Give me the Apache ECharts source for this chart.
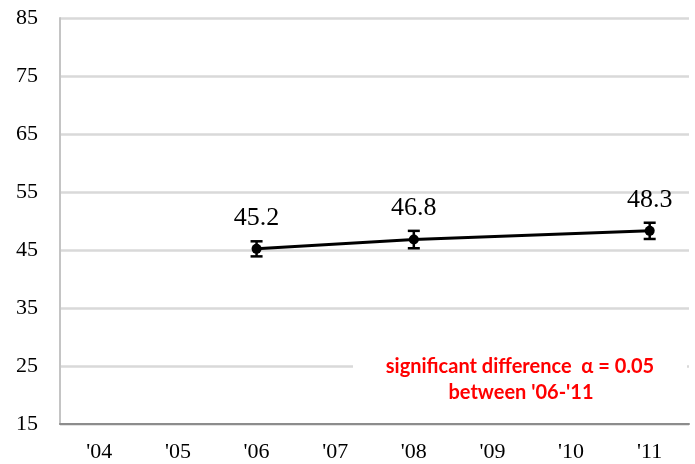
<!DOCTYPE html>
<html>
<head>
<meta charset="utf-8">
<script src="https://cdn.jsdelivr.net/npm/echarts@6/dist/echarts.min.js"></script>
<style>
  html, body { margin: 0; padding: 0; background: #fff; }
  #chart { width: 695px; height: 464px; }
</style>
</head>
<body>
<div id="chart"></div>
<script>
// Survey years shown on the horizontal axis
const years = ["'04", "'05", "'06", "'07", "'08", "'09", "'10", "'11"];
// Mean score per year (null where no survey was run)
const means = [null, null, 45.2, null, 46.8, null, null, 48.3];
// Half-width of the error bar for each measured year
const errors = [null, null, 1.3, null, 1.5, null, null, 1.4];
// Value axis range and step
const yMin = 15, yMax = 85, yStep = 10;
// Note printed in the lower right
const noteLines = ["significant difference  \u03b1 = 0.05", "between '06-'11"];

const points = [];
means.forEach((v, i) => { if (v !== null) points.push([i, v]); });
const bars = [];
means.forEach((v, i) => { if (v !== null) bars.push([i, v - errors[i], v + errors[i]]); });

const chart = echarts.init(document.getElementById('chart'), null, { renderer: 'canvas' });
const serif = "'Liberation Serif', 'Times New Roman', serif";

chart.setOption({
  animation: false,
  backgroundColor: '#ffffff',
  grid: { left: 60, right: 6, top: 18, bottom: 40 },
  xAxis: {
    type: 'category',
    data: years,
    boundaryGap: true,
    axisLine: { show: true, lineStyle: { color: '#8c8c8c', width: 2 } },
    axisTick: { show: false },
    axisLabel: { color: '#000', fontFamily: serif, fontSize: 22, margin: 17 },
    splitLine: { show: false }
  },
  yAxis: {
    type: 'value',
    min: yMin, max: yMax, interval: yStep,
    axisLine: { show: true, lineStyle: { color: '#c4c4c4', width: 2 } },
    axisTick: { show: false },
    axisLabel: { color: '#000', fontFamily: serif, fontSize: 22, margin: 22 },
    splitLine: { show: true, lineStyle: { color: '#d9d9d9', width: 2.5 } }
  },
  series: [
    {
      type: 'line',
      data: points,
      connectNulls: true,
      symbol: 'circle',
      symbolSize: 10,
      lineStyle: { color: '#000', width: 3 },
      itemStyle: { color: '#000' },
      label: {
        show: true,
        position: 'top',
        distance: 13,
        color: '#000',
        fontFamily: serif,
        fontSize: 26,
        formatter: p => p.value[1].toFixed(1)
      },
      z: 3
    },
    {
      type: 'custom',
      data: bars,
      renderItem: (params, api) => {
        const x = api.coord([api.value(0), api.value(1)])[0];
        const lo = api.coord([api.value(0), api.value(1)])[1];
        const hi = api.coord([api.value(0), api.value(2)])[1];
        const half = 6;
        const style = { stroke: '#000', lineWidth: 2.5 };
        return {
          type: 'group',
          children: [
            { type: 'line', shape: { x1: x, y1: lo, x2: x, y2: hi }, style },
            { type: 'line', shape: { x1: x - half, y1: lo, x2: x + half, y2: lo }, style },
            { type: 'line', shape: { x1: x - half, y1: hi, x2: x + half, y2: hi }, style }
          ]
        };
      },
      z: 4
    }
  ],
  graphic: [
    {
      type: 'rect',
      left: 353, top: 350,
      shape: { width: 334, height: 60 },
      style: { fill: '#ffffff' },
      z: 10
    },
    {
      type: 'text',
      x: 520, y: 367,
      style: {
        text: noteLines[0],
        fill: '#ff0000',
        font: "bold 20px 'Lato'",
        textAlign: 'center',
        textVerticalAlign: 'middle'
      },
      z: 11
    },
    {
      type: 'text',
      x: 521, y: 393,
      style: {
        text: noteLines[1],
        fill: '#ff0000',
        font: "bold 20px 'Lato'",
        textAlign: 'center',
        textVerticalAlign: 'middle'
      },
      z: 11
    }
  ]
});
</script>
</body>
</html>
